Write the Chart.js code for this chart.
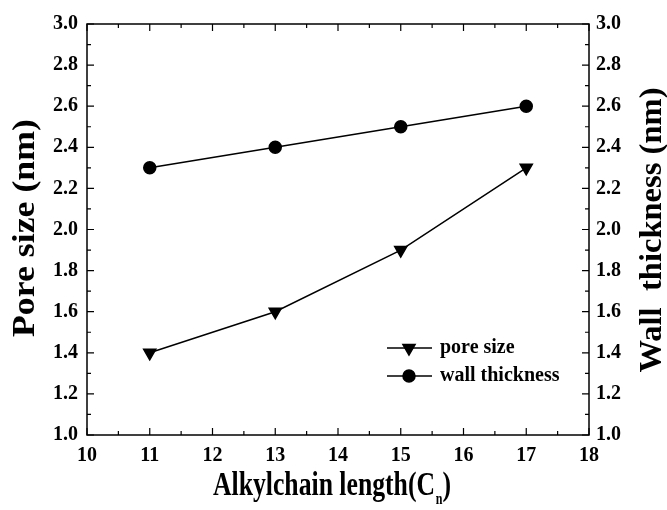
<!DOCTYPE html>
<html>
<head>
<meta charset="utf-8">
<script src="https://cdn.jsdelivr.net/npm/chart.js@4"></script>
<style>
  html, body { margin: 0; padding: 0; background: #fff; }
  #wrap { width: 667px; height: 510px; }
</style>
</head>
<body>
<div id="wrap"><canvas id="chart" width="667" height="510"></canvas></div>
<script>
// chain length (C_n)
const chainLength = [11, 13, 15, 17];
// pore size (nm), left axis
const poreSize = [1.4, 1.6, 1.9, 2.3];
// wall thickness (nm), right axis
const wallThickness = [2.3, 2.4, 2.5, 2.6];

const xTicks = [10, 11, 12, 13, 14, 15, 16, 17, 18];
const yTicks = [1.0, 1.2, 1.4, 1.6, 1.8, 2.0, 2.2, 2.4, 2.6, 2.8, 3.0];

const seriesNames = ["pore size", "wall thickness"];

const FONT = "'Liberation Serif', 'Times New Roman', serif";

// draws text squeezed/stretched to a given width
function fitText(ctx, text, cx, cy, rot, size, width) {
    ctx.save();
    ctx.font = "bold " + size + "px " + FONT;
    const w = ctx.measureText(text).width;
    ctx.translate(cx, cy);
    ctx.rotate(rot);
    ctx.scale(width / w, 1);
    ctx.textAlign = "center";
    ctx.textBaseline = "middle";
    ctx.fillText(text, 0, 0);
    ctx.restore();
}

// ticks pointing inward, plus minor ticks, titles, legend
const decorations = {
    id: "decorations",
    afterDraw(chart) {
        const ctx = chart.ctx;
        const a = chart.chartArea;
        const x = chart.scales.x, y = chart.scales.y;
        ctx.save();
        ctx.strokeStyle = "#000";
        ctx.lineWidth = 1.5;
        ctx.strokeRect(a.left, a.top, a.right - a.left, a.bottom - a.top);
        ctx.lineWidth = 1.2;
        ctx.beginPath();
        for (let v = 10; v <= 18.001; v += 0.5) {
            const px = x.getPixelForValue(v);
            const len = Math.abs(v - Math.round(v)) < 0.01 ? 7 : 4;
            ctx.moveTo(px, a.bottom); ctx.lineTo(px, a.bottom - len);
            ctx.moveTo(px, a.top); ctx.lineTo(px, a.top + len);
        }
        for (let i = 0; i <= 20; i++) {
            const v = 1 + i * 0.1;
            const py = y.getPixelForValue(v);
            const len = i % 2 === 0 ? 7 : 4;
            ctx.moveTo(a.left, py); ctx.lineTo(a.left + len, py);
            ctx.moveTo(a.right, py); ctx.lineTo(a.right - len, py);
        }
        ctx.stroke();

        ctx.fillStyle = "#000";
        fitText(ctx, "Pore size (nm)", 26, 228, -Math.PI / 2, 32, 218);
        fitText(ctx, "Wall  thickness (nm)", 653, 230, -Math.PI / 2, 32, 285);

        // x title with subscript n
        ctx.save();
        const main = "Alkylchain length(C";
        ctx.font = "bold 34px " + FONT;
        const w1 = ctx.measureText(main).width;
        const sq = 222 / w1;
        ctx.translate(213, 486);
        ctx.scale(sq, 1);
        ctx.textAlign = "left";
        ctx.textBaseline = "middle";
        ctx.fillText(main, 0, 0);
        ctx.font = "bold 16px " + FONT;
        ctx.fillText("n", w1 + 1, 14);
        const w2 = ctx.measureText("n").width;
        ctx.font = "bold 34px " + FONT;
        ctx.fillText(")", w1 + w2 + 1, 0);
        ctx.restore();

        // legend
        const items = [
            { label: seriesNames[0], style: "triangle", rot: 180, r: 7 },
            { label: seriesNames[1], style: "circle", rot: 0, r: 6 }
        ];
        const lx = 409;
        items.forEach((it, i) => {
            const ly = 348 + i * 28;
            ctx.lineWidth = 1.5;
            ctx.beginPath();
            ctx.moveTo(lx - 22, ly); ctx.lineTo(lx + 23, ly);
            ctx.stroke();
            Chart.helpers.drawPoint(ctx, { pointStyle: it.style, radius: it.r, rotation: it.rot, borderWidth: 1 }, lx, ly);
            ctx.font = "bold 20px " + FONT;
            ctx.textAlign = "left";
            ctx.textBaseline = "middle";
            ctx.fillText(it.label, 440, ly);
        });
        ctx.restore();
    }
};

const tickFont = { family: FONT, size: 20, weight: "bold" };

new Chart(document.getElementById("chart"), {
    type: "scatter",
    data: {
        datasets: [
            {
                label: seriesNames[0],
                data: chainLength.map((c, i) => ({ x: c, y: poreSize[i] })),
                showLine: true,
                borderColor: "#000",
                backgroundColor: "#000",
                borderWidth: 1.5,
                pointStyle: "triangle",
                rotation: 180,
                pointRadius: 7,
                yAxisID: "y"
            },
            {
                label: seriesNames[1],
                data: chainLength.map((c, i) => ({ x: c, y: wallThickness[i] })),
                showLine: true,
                borderColor: "#000",
                backgroundColor: "#000",
                borderWidth: 1.5,
                pointStyle: "circle",
                pointRadius: 6,
                yAxisID: "y1"
            }
        ]
    },
    options: {
        responsive: false,
        animation: false,
        layout: { padding: { top: 24, left: 0, right: 0, bottom: 0 } },
        plugins: { legend: { display: false }, tooltip: { enabled: false } },
        scales: {
            x: {
                type: "linear",
                min: 10, max: 18,
                afterBuildTicks: s => { s.ticks = xTicks.map(v => ({ value: v })); },
                afterFit: s => { s.height = 75; },
                grid: { display: false, drawTicks: false },
                border: { display: false },
                ticks: { color: "#000", padding: 9, font: tickFont }
            },
            y: {
                position: "left",
                min: 1, max: 3,
                afterBuildTicks: s => { s.ticks = yTicks.map(v => ({ value: v })); },
                afterFit: s => { s.width = 87; },
                grid: { display: false, drawTicks: false },
                border: { display: false },
                ticks: { color: "#000", padding: 9, font: tickFont, callback: v => v.toFixed(1) }
            },
            y1: {
                position: "right",
                min: 1, max: 3,
                afterBuildTicks: s => { s.ticks = yTicks.map(v => ({ value: v })); },
                afterFit: s => { s.width = 78; },
                grid: { display: false, drawTicks: false },
                border: { display: false },
                ticks: { color: "#000", padding: 7, font: tickFont, callback: v => v.toFixed(1) }
            }
        }
    },
    plugins: [decorations]
});
</script>
</body>
</html>
